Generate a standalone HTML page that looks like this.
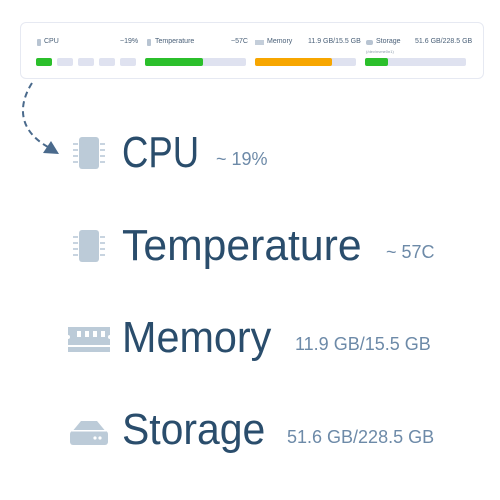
<!DOCTYPE html><html><head><style>
body{margin:0;width:500px;height:500px;background:#fff;font-family:"Liberation Sans",sans-serif;position:relative;overflow:hidden}
.a{position:absolute;white-space:nowrap}
.s{font-size:7px;color:#4a6078}
.bar{position:absolute;height:8px;border-radius:2px;background:#dfe2f0}
.big{font-size:44px;color:#2a4d6c;transform-origin:0 0}
.val{font-size:18px;color:#6d8aa8}
</style></head><body>
<div class="a" style="left:20px;top:22px;width:464px;height:57px;border:1px solid #e6e9f2;border-radius:6px;box-sizing:border-box"></div>
<div class="a" style="left:37px;top:39px;width:4px;height:7px;background:#b8c4d2;border-radius:1px"></div>
<div class="a s" style="left:44px;top:38px">CPU</div>
<div class="a s" style="left:120px;top:38px">~19%</div>
<div class="a" style="left:147px;top:39px;width:4px;height:7px;background:#b8c4d2;border-radius:1px"></div>
<div class="a s" style="left:155px;top:38px">Temperature</div>
<div class="a s" style="left:231px;top:38px">~57C</div>
<div class="a" style="left:255px;top:40px;width:9px;height:5px;background:#c4ceda"></div>
<div class="a s" style="left:267px;top:38px">Memory</div>
<div class="a s" style="left:308px;top:38px">11.9 GB/15.5 GB</div>
<div class="a" style="left:366px;top:40px;width:7px;height:5px;background:#b8c4d2;border-radius:2px"></div>
<div class="a s" style="left:376px;top:38px">Storage</div>
<div class="a" style="left:366px;top:49px;font-size:4px;color:#8898a8">(/dev/nvme0n1)</div>
<div class="a s" style="left:415px;top:38px">51.6 GB/228.5 GB</div>
<div class="bar" style="left:36px;top:58px;width:16px;background:#2bbf2b"></div>
<div class="bar" style="left:57px;top:58px;width:16px"></div>
<div class="bar" style="left:78px;top:58px;width:16px"></div>
<div class="bar" style="left:99px;top:58px;width:16px"></div>
<div class="bar" style="left:120px;top:58px;width:16px"></div>
<div class="bar" style="left:145px;top:58px;width:101px"></div>
<div class="bar" style="left:145px;top:58px;width:58px;background:#2bbf2b"></div>
<div class="bar" style="left:255px;top:58px;width:101px"></div>
<div class="bar" style="left:255px;top:58px;width:77px;background:#f7a600"></div>
<div class="bar" style="left:365px;top:58px;width:101px"></div>
<div class="bar" style="left:365px;top:58px;width:23px;background:#2bbf2b"></div>
<svg class="a" style="left:0;top:0" width="500" height="500">
<path d="M32 83 C18 105 18 130 48 147" fill="none" stroke="#4a6a8c" stroke-width="2" stroke-dasharray="6 4"/>
<polygon points="59,154 43,153 51,141" fill="#4a6a8c"/>
<g fill="#bccbd8">
<rect x="79" y="137" width="20" height="32" rx="3"/><rect x="79" y="230" width="20" height="32" rx="3"/>
<g stroke="#c8d4e0" stroke-width="2"><path d="M73 144h5M73 150h5M73 156h5M73 162h5M100 144h5M100 150h5M100 156h5M100 162h5M73 237h5M73 243h5M73 249h5M73 255h5M100 237h5M100 243h5M100 249h5M100 255h5"/></g>
<path d="M68 327h42v8a2 2 0 0 0 0 4v13h-42v-13a2 2 0 0 0 0-4z"/>
<path d="M81 421h16l10 12h-36z"/><rect x="70" y="431" width="38" height="14" rx="3"/>
</g>
<g fill="#fff"><rect x="77" y="331" width="4" height="6"/><rect x="85" y="331" width="4" height="6"/><rect x="93" y="331" width="4" height="6"/><rect x="101" y="331" width="4" height="6"/>
<rect x="68" y="345" width="42" height="2"/><rect x="72" y="430" width="34" height="1.5"/>
<circle cx="95" cy="438" r="1.6"/><circle cx="100" cy="438" r="1.6"/></g>
</svg>
<div class="a big" style="left:122px;top:128px;transform:scaleX(0.83)">CPU</div>
<div class="a val" style="left:216px;top:149px">~ 19%</div>
<div class="a big" style="left:122px;top:221px;transform:scaleX(0.97)">Temperature</div>
<div class="a val" style="left:386px;top:242px">~ 57C</div>
<div class="a big" style="left:122px;top:313px;transform:scaleX(0.94)">Memory</div>
<div class="a val" style="left:295px;top:334px">11.9 GB/15.5 GB</div>
<div class="a big" style="left:122px;top:405px;transform:scaleX(0.93)">Storage</div>
<div class="a val" style="left:287px;top:427px">51.6 GB/228.5 GB</div>
</body></html>
